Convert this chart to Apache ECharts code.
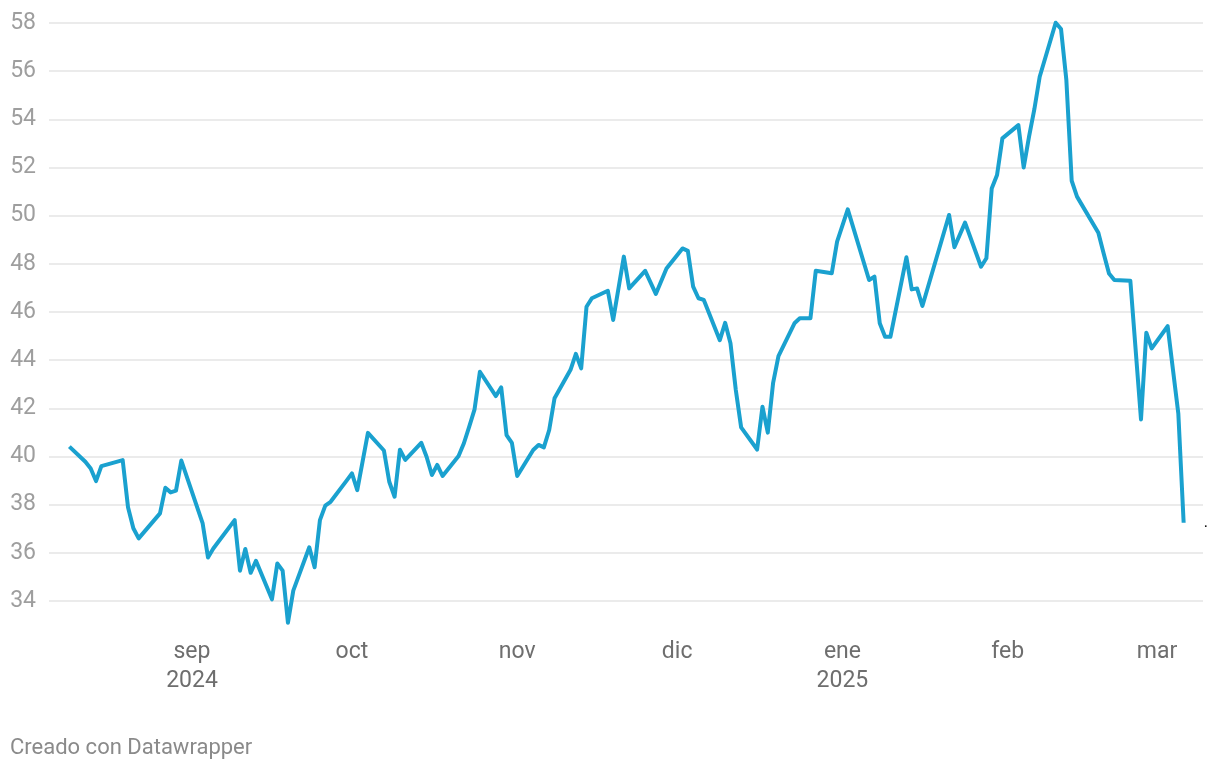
<!DOCTYPE html>
<html>
<head>
<meta charset="utf-8">
<script src="https://cdn.jsdelivr.net/npm/echarts@6/dist/echarts.min.js"></script>
<style>
  html, body { margin: 0; padding: 0; background: #fff; }
  #chart { width: 1220px; height: 770px; }
</style>
</head>
<body>
<div id="chart"></div>
<script>
// ---- data ----
const dates = [
  '2024-08-09','2024-08-12','2024-08-13','2024-08-14','2024-08-15','2024-08-19','2024-08-20','2024-08-21','2024-08-22','2024-08-26',
  '2024-08-27','2024-08-28','2024-08-29','2024-08-30','2024-09-03','2024-09-04','2024-09-05','2024-09-09','2024-09-10','2024-09-11',
  '2024-09-12','2024-09-13','2024-09-16','2024-09-17','2024-09-18','2024-09-19','2024-09-20','2024-09-23','2024-09-24','2024-09-25',
  '2024-09-26','2024-09-27','2024-09-30','2024-10-01','2024-10-02','2024-10-04','2024-10-07','2024-10-08','2024-10-09','2024-10-10',
  '2024-10-11','2024-10-14','2024-10-15','2024-10-16','2024-10-17','2024-10-18','2024-10-21','2024-10-22','2024-10-23','2024-10-24',
  '2024-10-25','2024-10-28','2024-10-29','2024-10-30','2024-10-31','2024-11-01','2024-11-04','2024-11-05','2024-11-06','2024-11-07',
  '2024-11-08','2024-11-11','2024-11-12','2024-11-13','2024-11-14','2024-11-15','2024-11-18','2024-11-19','2024-11-21','2024-11-22',
  '2024-11-25','2024-11-27','2024-11-29','2024-12-02','2024-12-03','2024-12-04','2024-12-05','2024-12-06','2024-12-09','2024-12-10',
  '2024-12-11','2024-12-12','2024-12-13','2024-12-16','2024-12-17','2024-12-18','2024-12-19','2024-12-20','2024-12-23','2024-12-24',
  '2024-12-26','2024-12-27','2024-12-30','2024-12-31','2025-01-02','2025-01-06','2025-01-07','2025-01-08','2025-01-09','2025-01-10',
  '2025-01-13','2025-01-14','2025-01-15','2025-01-16','2025-01-21','2025-01-22','2025-01-24','2025-01-27','2025-01-28','2025-01-29',
  '2025-01-30','2025-01-31','2025-02-03','2025-02-04','2025-02-05','2025-02-06','2025-02-07','2025-02-10','2025-02-11','2025-02-12',
  '2025-02-13','2025-02-14','2025-02-18','2025-02-19','2025-02-20','2025-02-21','2025-02-24','2025-02-26','2025-02-27','2025-02-28',
  '2025-03-03','2025-03-05','2025-03-06'
];
const values = [
  40.41,39.78,39.50,38.98,39.60,39.85,37.89,37.02,36.60,37.64,
  38.70,38.51,38.58,39.83,37.22,35.81,36.18,37.36,35.26,36.16,
  35.17,35.67,34.07,35.56,35.26,33.10,34.43,36.23,35.40,37.36,
  37.96,38.12,39.00,39.30,38.60,40.98,40.25,38.95,38.33,40.28,
  39.86,40.57,39.99,39.23,39.65,39.19,40.02,40.55,41.24,41.96,
  43.52,42.51,42.87,40.89,40.57,39.19,40.27,40.48,40.38,41.10,
  42.42,43.60,44.26,43.66,46.22,46.57,46.88,45.67,48.30,46.98,
  47.71,46.75,47.81,48.64,48.54,47.05,46.57,46.50,44.83,45.55,
  44.70,42.76,41.21,40.29,42.07,40.99,43.06,44.17,45.53,45.74,
  45.74,47.71,47.61,48.92,50.26,47.33,47.47,45.53,44.97,44.97,
  48.27,46.94,46.98,46.25,50.03,48.69,49.71,47.88,48.23,51.13,
  51.69,53.21,53.76,52.00,53.28,54.42,55.77,58.01,57.75,55.63,
  51.45,50.79,49.29,48.43,47.60,47.33,47.30,41.54,45.14,44.49,
  45.41,41.79,37.25
];
const xTickDates  = ['2024-09-01','2024-10-01','2024-11-01','2024-12-01','2025-01-01','2025-02-01','2025-03-01'];
const xTickLabels = ['sep\n2024','oct','nov','dic','ene\n2025','feb','mar'];
const yTicks = [34,36,38,40,42,44,46,48,50,52,54,56,58];
const footerText = 'Creado con Datawrapper';

// ---- helpers ----
function ts(s) { const p = s.split('-').map(Number); return Date.UTC(p[0], p[1]-1, p[2]); }
const DAY = 864e5;
const tickTs = xTickDates.map(ts);
const seriesData = dates.map((d, i) => [ts(d), values[i]]);

const xMin = tickTs[0] - 26.82 * DAY;
const xMax = tickTs[0] + 189.63 * DAY;

const chart = echarts.init(document.getElementById('chart'), null, { renderer: 'canvas' });
chart.setOption({
  animation: false,
  backgroundColor: '#ffffff',
  textStyle: { fontFamily: 'Roboto' },
  grid: { left: 49, right: 17, top: 23, bottom: 169, containLabel: false },
  xAxis: {
    type: 'value',
    min: xMin,
    max: xMax,
    axisLine: { show: false },
    axisTick: { show: false },
    splitLine: { show: false },
    axisLabel: {
      customValues: tickTs,
      formatter: function (v) {
        const i = tickTs.indexOf(v);
        return i >= 0 ? xTickLabels[i] : '';
      },
      color: '#6e6e6e',
      fontSize: 23,
      lineHeight: 29,
      margin: 37,
      fontFamily: 'Roboto'
    }
  },
  yAxis: {
    type: 'value',
    min: yTicks[0],
    max: yTicks[yTicks.length - 1],
    interval: 2,
    axisLine: { show: false },
    axisTick: { show: false },
    splitLine: { show: true, lineStyle: { color: '#e4e4e4', width: 1.6 } },
    axisLabel: {
      color: '#9e9e9e',
      fontSize: 23,
      margin: 13,
      fontFamily: 'Roboto'
    }
  },
  series: [{
    type: 'line',
    data: seriesData,
    showSymbol: false,
    clip: false,
    lineStyle: { color: '#1aa1cf', width: 4, join: 'round', cap: 'butt' },
    itemStyle: { color: '#1aa1cf' },
    endLabel: {
      show: true,
      formatter: '.',
      color: '#000',
      fontSize: 16,
      distance: 20
    }
  }],
  graphic: [{
    type: 'text',
    left: 10,
    top: 737,
    style: { text: footerText, fill: '#8a8a8a', fontSize: 22, fontFamily: 'Roboto' }
  }]
});
</script>
</body>
</html>
